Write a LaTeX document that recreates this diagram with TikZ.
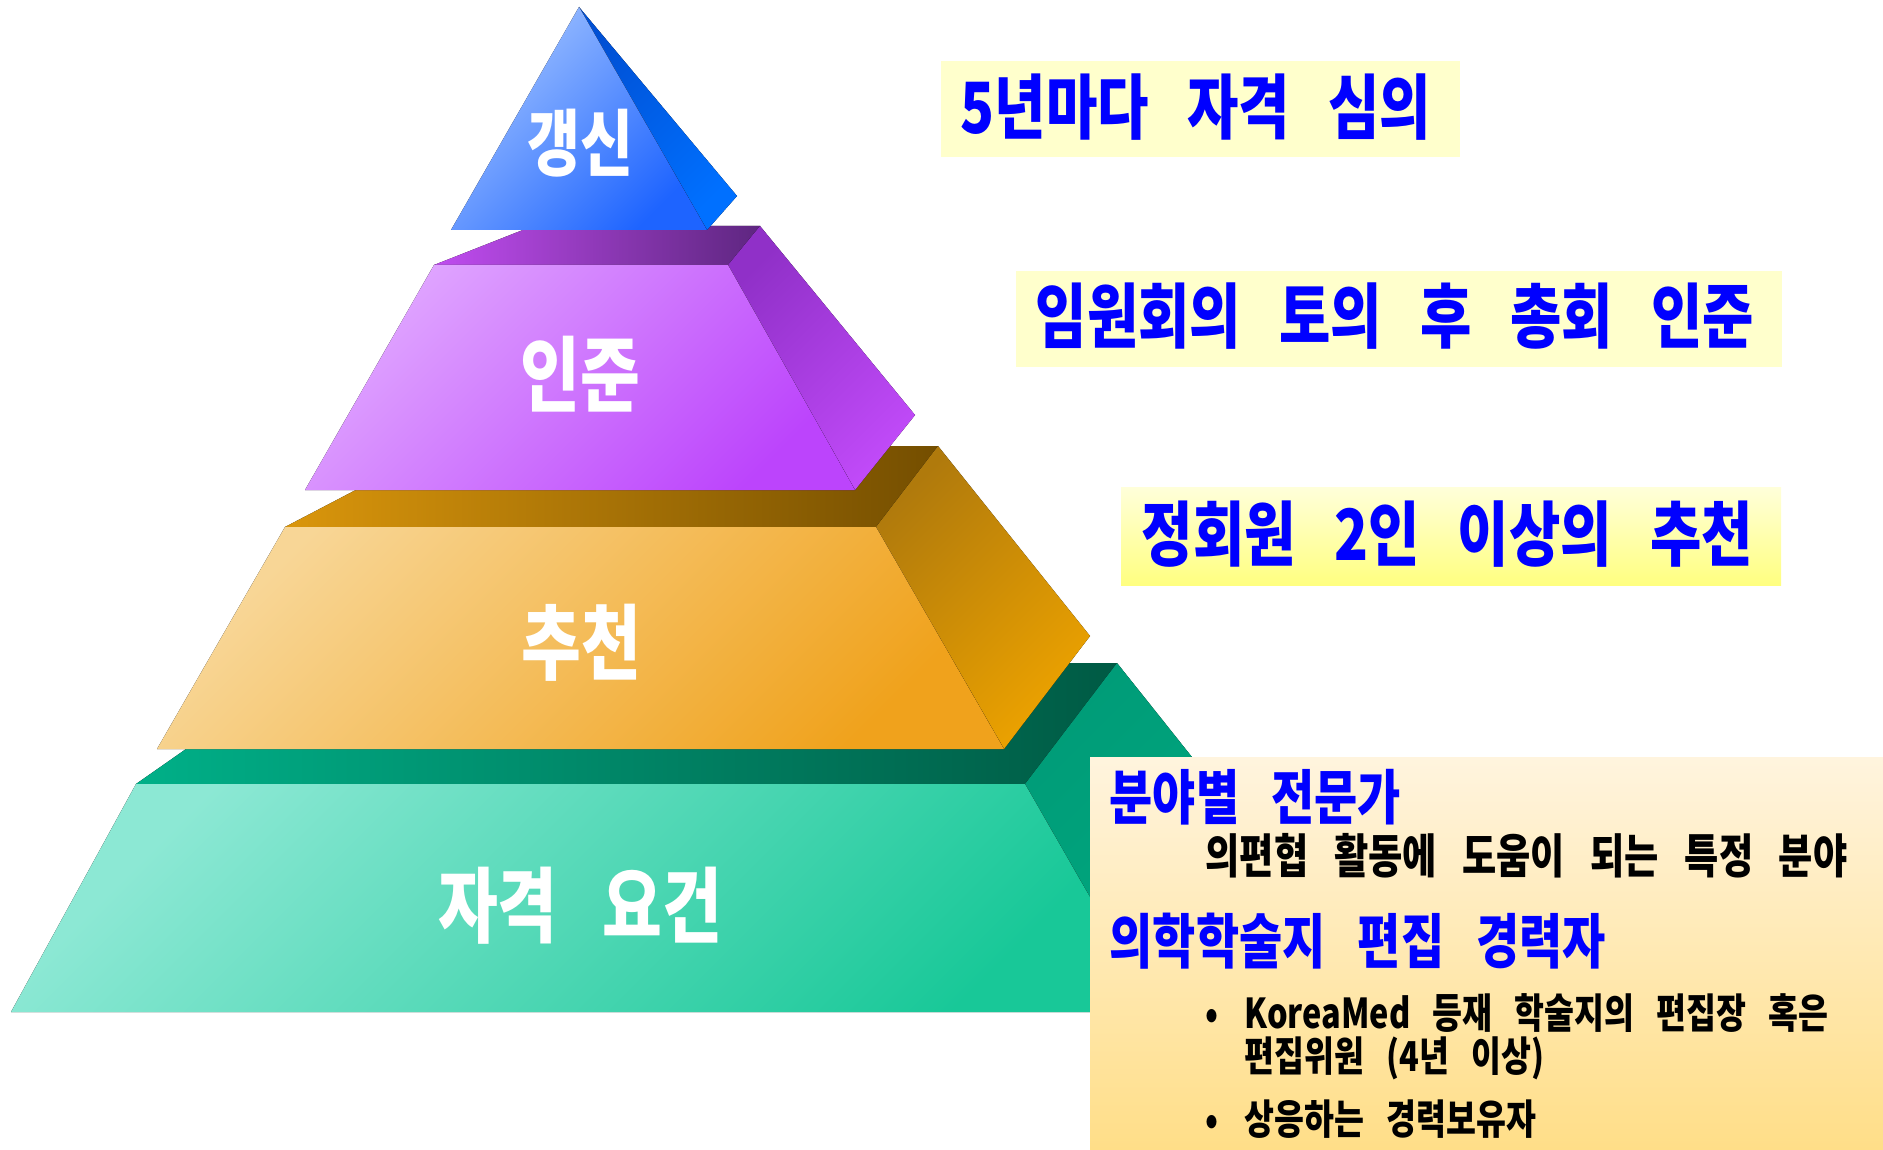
\documentclass[tikz,border=0pt]{standalone}
\usepackage{fontspec}
\usepackage{tikz}
\newfontfamily\kr{Noto Sans CJK KR}[FakeStretch=0.79,WordSpace=3]

\definecolor{capfrontA}{HTML}{A0C2FF}
\definecolor{capfrontB}{HTML}{1E64FF}
\definecolor{capsideA}{HTML}{0050D4}
\definecolor{capsideB}{HTML}{0070FF}
\definecolor{violetfrontA}{HTML}{E0A6FF}
\definecolor{violetfrontB}{HTML}{BC44FC}
\definecolor{violetsideA}{HTML}{9030C8}
\definecolor{violetsideB}{HTML}{C04AF8}
\definecolor{violettopA}{HTML}{C04CF0}
\definecolor{violettopB}{HTML}{5E2680}
\definecolor{amberfrontA}{HTML}{F8D696}
\definecolor{amberfrontB}{HTML}{F0A21C}
\definecolor{ambersideA}{HTML}{B07A0C}
\definecolor{ambersideB}{HTML}{ECA200}
\definecolor{ambertopA}{HTML}{DA960C}
\definecolor{ambertopB}{HTML}{744E00}
\definecolor{jadefrontA}{HTML}{8CE8D4}
\definecolor{jadefrontB}{HTML}{18C898}
\definecolor{jadesideA}{HTML}{009C78}
\definecolor{jadesideB}{HTML}{00AA80}
\definecolor{jadetopA}{HTML}{00B088}
\definecolor{jadetopB}{HTML}{005A44}
\definecolor{tagfill}{HTML}{FFFFCC}
\definecolor{tagtop}{HTML}{FFFFDA}
\definecolor{tagbot}{HTML}{FFFF80}
\definecolor{notetop}{HTML}{FFF4DE}
\definecolor{notebot}{HTML}{FFDE88}

\tikzset{
  lvltxt/.style={text=white, inner sep=0pt, font={\kr\bfseries\fontsize{23.4}{26}\selectfont}},
  tagtxt/.style={text=blue, anchor=west, inner sep=0pt, font={\kr\bfseries\fontsize{20.1}{23}\selectfont}},
  headtxt/.style={text=blue, anchor=west, inner sep=0pt, font={\kr\bfseries\fontsize{16.9}{19}\selectfont}},
  notetxt/.style={text=black, anchor=west, inner sep=0pt, font={\kr\bfseries\fontsize{13.4}{16}\selectfont}},
  itemtxt/.style={notetxt, font={\kr\bfseries\fontsize{11.7}{14}\selectfont}},
  diag/.style 2 args={top color=#1, bottom color=#2, shading angle=45},
  flat/.style 2 args={left color=#1, right color=#2}
}

\begin{document}
\begin{tikzpicture}[x=0.01cm,y=-0.01cm]
\useasboundingbox (0,0) rectangle (1883,1149);

\fill [flat={jadetopA}{jadetopB}] (136,784) -- (309,663) -- (1117,663) -- (1025,784) -- cycle;
\fill [diag={jadesideA}{jadesideB}] (1025,784) -- (1117,663) -- (1290,880) -- (1156,1012) -- cycle;
\fill [diag={jadefrontA}{jadefrontB}] (11,1012) -- (136,784) -- (1025,784) -- (1156,1012) -- cycle;

\fill [flat={ambertopA}{ambertopB}] (285,527) -- (440,446) -- (938,446) -- (876,527) -- cycle;
\fill [diag={ambersideA}{ambersideB}] (876,527) -- (938,446) -- (1090,636) -- (1004,749) -- cycle;
\fill [diag={amberfrontA}{amberfrontB}] (157,749) -- (285,527) -- (876,527) -- (1004,749) -- cycle;

\fill [flat={violettopA}{violettopB}] (434,265) -- (533,226) -- (760,226) -- (728,265) -- cycle;
\fill [diag={violetsideA}{violetsideB}] (728,265) -- (760,226) -- (915,415) -- (855,490) -- cycle;
\fill [diag={violetfrontA}{violetfrontB}] (305,490) -- (434,265) -- (728,265) -- (855,490) -- cycle;

\fill [diag={capsideA}{capsideB}] (579,7) -- (737,196) -- (707,230) -- cycle;
\fill [diag={capfrontA}{capfrontB}] (579,7) -- (451,230) -- (707,230) -- cycle;

\node [lvltxt, font={\kr\bfseries\fontsize{20.7}{23}\selectfont}] (renew) at (580,143) {갱신};
\node [lvltxt] (approve) at (580,374) {인준};
\node [lvltxt] (recommend) at (581,643) {추천};
\node [lvltxt] (qualify) at (580,906) {자격 요건};

\fill [tagfill] (941,61) rectangle (1460,157);
\fill [tagfill] (1016,271) rectangle (1782,367);
\fill [top color=tagtop, bottom color=tagbot] (1121,487) rectangle (1781,585);
\node [tagtxt] (every5) at (960,107) {5년마다 자격 심의};
\node [tagtxt] (board) at (1035,316) {임원회의 토의 후 총회 인준};
\node [tagtxt] (twomembers) at (1141,534) {정회원 2인 이상의 추천};

\fill [top color=notetop, bottom color=notebot] (1090,757) rectangle (1883,1149);
\node [headtxt] (expert) at (1109,797) {분야별 전문가};
\node [notetxt] (field) at (1205,856) {의편협 활동에 도움이 되는 특정 분야};
\node [headtxt] (editor) at (1109,941) {의학학술지 편집 경력자};
\node [itemtxt] (koreamed) at (1205,1013) {\makebox[0.39cm][l]{•}KoreaMed 등재 학술지의 편집장 혹은};
\node [itemtxt] (member) at (1244,1058) {편집위원 (4년 이상)};
\node [itemtxt] (equiv) at (1205,1119) {\makebox[0.39cm][l]{•}상응하는 경력보유자};
\end{tikzpicture}
\end{document}
